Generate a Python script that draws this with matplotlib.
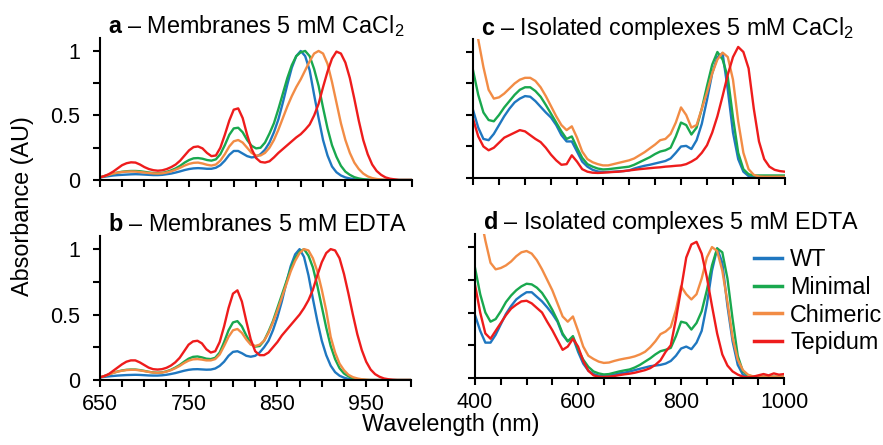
import numpy as np
import matplotlib
matplotlib.use('Agg')
from matplotlib import pyplot as plt

plt.rcParams['font.family'] = ['Liberation Sans', 'DejaVu Sans']
plt.rcParams['mathtext.fontset'] = 'custom'
plt.rcParams['mathtext.rm'] = 'Liberation Sans'
plt.rcParams['mathtext.bf'] = 'Liberation Sans:bold'

labels = ['WT', 'Minimal', 'Chimeric', 'Tepidum']
colors = ['#1f77c0', '#19a84e', '#f28c45', '#ee1c1c']

# membranes: 650-1000 nm every 5 nm
wl_mem = np.arange(650, 1001, 5)
# isolated complexes: 400-1000 nm every 10 nm
wl_iso = np.arange(400, 1001, 10)

# a - membranes CaCl2
a_wt = [0.02, 0.025, 0.03, 0.035, 0.038, 0.04, 0.042, 0.044, 0.045, 0.044, 0.042, 0.04, 0.038, 0.038, 0.04,
        0.045, 0.05, 0.058, 0.067, 0.077, 0.085, 0.09, 0.092, 0.09, 0.087, 0.087, 0.095, 0.115, 0.15, 0.195,
        0.225, 0.225, 0.205, 0.185, 0.175, 0.18, 0.2, 0.235, 0.29, 0.37, 0.47, 0.6, 0.74, 0.87, 0.96,
        1.0, 0.96, 0.85, 0.66, 0.48, 0.31, 0.19, 0.105, 0.06, 0.035, 0.02, 0.012, 0.006, 0.003, 0.001,
        0, 0, 0, 0, 0, 0, 0, 0, 0, 0, 0]
a_min = [0.02, 0.03, 0.04, 0.05, 0.058, 0.064, 0.068, 0.07, 0.07, 0.068, 0.063, 0.058, 0.054, 0.052, 0.055,
         0.063, 0.075, 0.09, 0.11, 0.135, 0.155, 0.168, 0.17, 0.165, 0.155, 0.15, 0.16, 0.2, 0.27, 0.35,
         0.4, 0.405, 0.37, 0.31, 0.265, 0.245, 0.25, 0.29, 0.36, 0.44, 0.55, 0.67, 0.79, 0.89, 0.96,
         0.99, 1.0, 0.96, 0.86, 0.73, 0.56, 0.4, 0.27, 0.18, 0.11, 0.065, 0.04, 0.022, 0.012, 0.006,
         0.003, 0, 0, 0, 0, 0, 0, 0, 0, 0, 0]
a_chi = [0.02, 0.03, 0.04, 0.05, 0.057, 0.062, 0.065, 0.066, 0.065, 0.062, 0.058, 0.054, 0.051, 0.05, 0.052,
         0.058, 0.067, 0.08, 0.095, 0.112, 0.125, 0.133, 0.135, 0.128, 0.118, 0.112, 0.12, 0.15, 0.2, 0.26,
         0.3, 0.31, 0.29, 0.25, 0.21, 0.19, 0.19, 0.21, 0.25, 0.31, 0.39, 0.48, 0.57, 0.65, 0.72,
         0.78, 0.85, 0.92, 0.98, 1.0, 0.98, 0.9, 0.76, 0.6, 0.44, 0.31, 0.21, 0.135, 0.085, 0.05,
         0.028, 0.015, 0.008, 0.004, 0.001, 0, 0, 0, 0, 0, 0]
a_tep = [0.02, 0.03, 0.045, 0.065, 0.09, 0.115, 0.13, 0.137, 0.135, 0.12, 0.1, 0.085, 0.076, 0.072, 0.075,
         0.085, 0.1, 0.12, 0.15, 0.19, 0.23, 0.255, 0.26, 0.245, 0.21, 0.185, 0.19, 0.25, 0.35, 0.46,
         0.545, 0.555, 0.48, 0.35, 0.24, 0.17, 0.14, 0.135, 0.145, 0.175, 0.21, 0.24, 0.27, 0.3, 0.33,
         0.355, 0.39, 0.43, 0.5, 0.59, 0.72, 0.84, 0.94, 0.995, 0.98, 0.91, 0.79, 0.63, 0.46, 0.31,
         0.2, 0.12, 0.07, 0.04, 0.02, 0.01, 0.005, 0, 0, 0, 0]

# b - membranes EDTA
b_wt = [0.02, 0.024, 0.028, 0.031, 0.034, 0.036, 0.038, 0.039, 0.04, 0.039, 0.037, 0.035, 0.034, 0.034, 0.036,
        0.04, 0.046, 0.053, 0.062, 0.071, 0.078, 0.082, 0.083, 0.081, 0.079, 0.08, 0.088, 0.108, 0.14, 0.185,
        0.215, 0.22, 0.205, 0.185, 0.178, 0.185, 0.21, 0.25, 0.3, 0.38, 0.48, 0.6, 0.74, 0.87, 0.96,
        1.0, 0.94, 0.8, 0.62, 0.45, 0.3, 0.19, 0.11, 0.06, 0.033, 0.018, 0.009, 0.004, 0.002, 0,
        0, 0, 0, 0, 0, 0, 0, 0, 0, 0, 0]
b_min = [0.02, 0.03, 0.043, 0.055, 0.065, 0.073, 0.078, 0.08, 0.08, 0.076, 0.07, 0.063, 0.058, 0.056, 0.058,
         0.066, 0.078, 0.095, 0.115, 0.14, 0.163, 0.177, 0.18, 0.173, 0.163, 0.16, 0.17, 0.21, 0.29, 0.38,
         0.44, 0.45, 0.41, 0.34, 0.28, 0.255, 0.26, 0.3, 0.37, 0.45, 0.55, 0.65, 0.75, 0.85, 0.93,
         0.98, 1.0, 0.95, 0.86, 0.72, 0.56, 0.4, 0.26, 0.16, 0.09, 0.05, 0.028, 0.014, 0.007, 0.003,
         0, 0, 0, 0, 0, 0, 0, 0, 0, 0, 0]
b_chi = [0.02, 0.03, 0.042, 0.054, 0.064, 0.071, 0.076, 0.078, 0.078, 0.074, 0.068, 0.062, 0.057, 0.055, 0.057,
         0.064, 0.075, 0.09, 0.108, 0.13, 0.148, 0.158, 0.16, 0.156, 0.15, 0.15, 0.16, 0.195, 0.26, 0.33,
         0.38, 0.39, 0.36, 0.31, 0.27, 0.26, 0.27, 0.3, 0.36, 0.44, 0.53, 0.63, 0.73, 0.83, 0.91,
         0.97, 1.0, 0.99, 0.93, 0.83, 0.69, 0.53, 0.33, 0.21, 0.125, 0.075, 0.04, 0.022, 0.012, 0.006,
         0.003, 0, 0, 0, 0, 0, 0, 0, 0, 0, 0]
b_tep = [0.02, 0.03, 0.045, 0.07, 0.095, 0.12, 0.14, 0.15, 0.15, 0.135, 0.115, 0.095, 0.083, 0.08, 0.083,
         0.093, 0.11, 0.135, 0.17, 0.22, 0.27, 0.295, 0.3, 0.28, 0.235, 0.21, 0.22, 0.29, 0.41, 0.55,
         0.66, 0.685, 0.6, 0.45, 0.31, 0.22, 0.19, 0.19, 0.21, 0.25, 0.29, 0.34, 0.38, 0.42, 0.46,
         0.5, 0.55, 0.61, 0.69, 0.8, 0.9, 0.97, 1.0, 0.99, 0.93, 0.81, 0.66, 0.5, 0.35, 0.23,
         0.14, 0.08, 0.045, 0.025, 0.012, 0.006, 0.002, 0, 0, 0, 0]

# c - isolated complexes CaCl2
c_wt = [0.54, 0.4, 0.31, 0.3, 0.35, 0.42, 0.49, 0.55, 0.6, 0.63, 0.65, 0.645, 0.61, 0.565, 0.52, 0.48,
        0.42, 0.34, 0.29, 0.29, 0.21, 0.13, 0.09, 0.065, 0.052, 0.048, 0.048, 0.05, 0.053, 0.055, 0.06,
        0.075, 0.087, 0.097, 0.105, 0.115, 0.125, 0.135, 0.155, 0.2, 0.25, 0.255, 0.23, 0.3, 0.43, 0.62,
        0.83, 0.96, 0.99, 0.7, 0.36, 0.15, 0.05, 0.015, 0.008, 0.005, 0.005, 0.005, 0.005, 0.005, 0.005]
c_min = [0.855, 0.66, 0.52, 0.46, 0.45, 0.5, 0.56, 0.61, 0.66, 0.7, 0.72, 0.72, 0.69, 0.645, 0.58, 0.51,
         0.44, 0.37, 0.31, 0.33, 0.24, 0.16, 0.11, 0.09, 0.075, 0.068, 0.07, 0.075, 0.08, 0.085, 0.09,
         0.105, 0.125, 0.145, 0.165, 0.19, 0.21, 0.22, 0.24, 0.33, 0.44, 0.42, 0.345, 0.4, 0.55, 0.73,
         0.9, 1.0, 0.94, 0.8, 0.48, 0.2, 0.07, 0.03, 0.02, 0.02, 0.02, 0.02, 0.02, 0.02, 0.02]
c_chi = [1.35, 1.1, 0.88, 0.7, 0.63, 0.64, 0.67, 0.71, 0.75, 0.78, 0.795, 0.795, 0.77, 0.72, 0.65, 0.57,
         0.49, 0.42, 0.38, 0.41, 0.32, 0.21, 0.15, 0.125, 0.11, 0.1, 0.1, 0.11, 0.12, 0.13, 0.14,
         0.155, 0.18, 0.205, 0.235, 0.265, 0.3, 0.31, 0.35, 0.44, 0.56, 0.5, 0.4, 0.42, 0.55, 0.68,
         0.83, 0.94, 0.995, 0.96, 0.78, 0.45, 0.2, 0.07, 0.025, 0.012, 0.01, 0.01, 0.01, 0.01, 0.01]
c_tep = [0.47, 0.33, 0.25, 0.22, 0.24, 0.28, 0.32, 0.34, 0.36, 0.38, 0.37, 0.34, 0.31, 0.285, 0.24, 0.185,
         0.14, 0.105, 0.11, 0.18, 0.13, 0.07, 0.05, 0.042, 0.04, 0.042, 0.045, 0.048, 0.05, 0.055, 0.06,
         0.065, 0.07, 0.074, 0.078, 0.082, 0.085, 0.09, 0.093, 0.097, 0.1, 0.11, 0.13, 0.155, 0.2, 0.26,
         0.36, 0.49, 0.65, 0.82, 0.96, 1.04, 1.0, 0.87, 0.55, 0.29, 0.15, 0.09, 0.065, 0.055, 0.05]

# d - isolated complexes EDTA
d_wt = [0.48, 0.36, 0.27, 0.27, 0.33, 0.41, 0.49, 0.55, 0.6, 0.63, 0.655, 0.655, 0.62, 0.585, 0.54, 0.49,
        0.43, 0.33, 0.28, 0.31, 0.2, 0.11, 0.055, 0.03, 0.018, 0.013, 0.018, 0.025, 0.035, 0.04, 0.05,
        0.06, 0.07, 0.08, 0.09, 0.095, 0.1, 0.11, 0.13, 0.17, 0.225, 0.24, 0.22, 0.27, 0.36, 0.56,
        0.82, 0.99, 0.88, 0.55, 0.28, 0.1, 0.025, 0.008, 0.005, 0.005, 0.005, 0.005, 0.005, 0.005, 0.005]
d_min = [0.84, 0.64, 0.5, 0.43, 0.45, 0.51, 0.58, 0.63, 0.67, 0.7, 0.72, 0.715, 0.69, 0.65, 0.59, 0.52,
         0.44, 0.34, 0.28, 0.32, 0.22, 0.14, 0.085, 0.05, 0.035, 0.027, 0.03, 0.04, 0.05, 0.058, 0.065,
         0.08, 0.1, 0.125, 0.15, 0.18, 0.205, 0.215, 0.23, 0.32, 0.43, 0.42, 0.37, 0.42, 0.51, 0.67,
         0.86, 0.99, 0.96, 0.76, 0.45, 0.17, 0.05, 0.02, 0.01, 0.01, 0.01, 0.01, 0.01, 0.01, 0.01]
d_chi = [1.4, 1.25, 1.05, 0.88, 0.83, 0.84, 0.86, 0.89, 0.93, 0.96, 0.97, 0.95, 0.9, 0.83, 0.75, 0.67,
         0.57, 0.47, 0.43, 0.47, 0.36, 0.24, 0.17, 0.145, 0.125, 0.115, 0.118, 0.13, 0.14, 0.148, 0.155,
         0.165, 0.18, 0.2, 0.235, 0.28, 0.335, 0.355, 0.39, 0.52, 0.7, 0.64, 0.6, 0.64, 0.76, 0.92,
         1.0, 0.97, 0.82, 0.58, 0.31, 0.14, 0.06, 0.025, 0.012, 0.01, 0.01, 0.01, 0.01, 0.01, 0.01]
d_tep = [0.71, 0.5, 0.34, 0.3, 0.36, 0.42, 0.48, 0.53, 0.56, 0.585, 0.59, 0.57, 0.535, 0.5, 0.43, 0.365,
         0.29, 0.215, 0.24, 0.3, 0.24, 0.13, 0.055, 0.02, 0.01, 0.008, 0.01, 0.015, 0.022, 0.028, 0.033,
         0.04, 0.05, 0.06, 0.075, 0.1, 0.135, 0.2, 0.25, 0.45, 0.68, 0.92, 1.02, 1.04, 0.95, 0.77,
         0.55, 0.34, 0.18, 0.095, 0.05, 0.026, 0.01, 0.005, 0.01, 0.02, 0.03, 0.02, 0.035, 0.025, 0.03]

titles = [r'$\mathbf{a}$ – Membranes 5 mM CaCl$_\mathregular{2}$',
          r'$\mathbf{b}$ – Membranes 5 mM EDTA',
          r'$\mathbf{c}$ – Isolated complexes 5 mM CaCl$_\mathregular{2}$',
          r'$\mathbf{d}$ – Isolated complexes 5 mM EDTA']

panels = [
    (wl_mem, [a_wt, a_min, a_chi, a_tep], [0.113, 0.5955, 0.354, 0.319]),
    (wl_mem, [b_wt, b_min, b_chi, b_tep], [0.113, 0.146, 0.352, 0.3236]),
    (wl_iso, [c_wt, c_min, c_chi, c_tep], [0.5357, 0.6, 0.3533, 0.3115]),
    (wl_iso, [d_wt, d_min, d_chi, d_tep], [0.538, 0.1506, 0.350, 0.3236]),
]

fig = plt.figure(figsize=(8.83, 4.45), dpi=100)
axes = []
for i, (wl, series, pos) in enumerate(panels):
    ax = fig.add_axes(pos)
    for s, c, lab in zip(series, colors, labels):
        ax.plot(wl, s, color=c, lw=1.7, label=lab)
    ax.set_ylim(0, 1.1)
    ax.spines['top'].set_visible(False)
    ax.spines['right'].set_visible(False)
    ax.spines['left'].set_linewidth(1.5)
    ax.spines['bottom'].set_linewidth(1.5)
    if i < 2:
        ax.set_xlim(650, 1000)
        ax.set_xticks([650, 750, 850, 950])
        ax.set_xticks(np.arange(650, 1001, 25), minor=True)
    else:
        ax.set_xlim(400, 1000)
        ax.set_xticks([400, 600, 800, 1000])
        ax.set_xticks(np.arange(400, 1001, 50), minor=True)
    ax.set_yticks([0, 0.5, 1])
    ax.set_yticklabels(['0', '0.5', '1'])
    ax.set_yticks([0.25, 0.75], minor=True)
    ax.tick_params(which='both', direction='out', length=5, width=1.5, labelsize=15.5)
    ax.tick_params(axis='y', pad=9)
    ax.tick_params(axis='x', pad=5)
    if i in (0, 2):
        ax.tick_params(axis='x', labelbottom=False)
    if i >= 2:
        ax.tick_params(axis='y', labelleft=False)
    ax.text(0.026, 1.035, titles[i], transform=ax.transAxes, fontsize=16.8, ha='left', va='baseline')
    axes.append(ax)

leg = axes[3].legend(loc='upper left', bbox_to_anchor=(0.854, 0.442), bbox_transform=fig.transFigure,
                     frameon=False, fontsize=16.8, handlelength=1.2, handletextpad=0.35,
                     labelspacing=0.2, borderpad=0, borderaxespad=0)
for h in leg.get_lines():
    h.set_linewidth(2.5)

fig.text(0.026, 0.537, 'Absorbance (AU)', rotation=90, fontsize=16.8, ha='center', va='center')
fig.text(0.51, 0.045, 'Wavelength (nm)', fontsize=16.8, ha='center', va='center')

plt.savefig('out.png', dpi=100)
